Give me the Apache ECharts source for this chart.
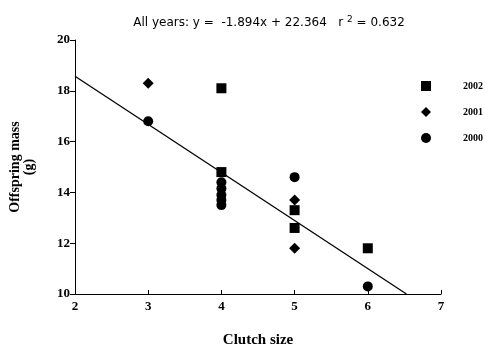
<!DOCTYPE html>
<html>
<head>
<meta charset="utf-8">
<script src="https://cdn.jsdelivr.net/npm/echarts@6/dist/echarts.min.js"></script>
<style>html,body{margin:0;padding:0;background:#fff}#c{width:485px;height:355px}</style>
</head>
<body>
<div id="c"></div>
<script>
var years = ['2002', '2001', '2000'];
var data2002 = [[4, 18.1], [4, 14.8], [5, 13.3], [5, 12.6], [6, 11.8]];
var data2001 = [[3, 18.3], [5, 13.7], [5, 11.8]];
var data2000 = [[3, 16.8], [4, 14.4], [4, 14.15], [4, 13.9], [4, 13.7], [4, 13.5], [5, 14.6], [6, 10.3]];
var fitSlope = -1.894;
var fitIntercept = 22.364;
var rSquared = 0.632;
var xTicks = [2, 3, 4, 5, 6, 7];
var yTicks = [10, 12, 14, 16, 18, 20];

var xMin = xTicks[0], xMax = xTicks[xTicks.length - 1];
var yMin = yTicks[0], yMax = yTicks[yTicks.length - 1];
// regression line endpoints from the stated equation, clipped to plot
var x0 = xMin, y0 = fitSlope * x0 + fitIntercept;
var x1 = (yMin - fitIntercept) / fitSlope, y1 = yMin;
var fitLine = [[x0, y0], [x1, y1]];

var serif = 'Liberation Serif';
var chart = echarts.init(document.getElementById('c'));
var mark = { color: '#000', opacity: 1 };
chart.setOption({
  animation: false,
  backgroundColor: '#fff',
  title: {
    text: 'All years: y =  ' + fitSlope.toFixed(3) + 'x + ' + fitIntercept.toFixed(3) + '   r {sup|2} = ' + rSquared.toFixed(3),
    left: 264, top: 10, textAlign: 'center',
    textStyle: {
      fontFamily: 'DejaVu Sans', fontSize: 12, fontWeight: 'normal', color: '#000',
      rich: { sup: { fontFamily: 'DejaVu Sans', fontSize: 9, verticalAlign: 'top', padding: [0, 0, 6, 0], color: '#000' } }
    }
  },
  legend: {
    orient: 'vertical', left: 416, top: 76,
    itemWidth: 10, itemHeight: 10, itemGap: 16,
    data: years,
    textStyle: { fontFamily: serif, fontWeight: 'bold', fontSize: 10, color: '#000', padding: [0, 0, 0, 27] }
  },
  grid: { left: 74, right: 44, top: 40, bottom: 61 },
  xAxis: {
    type: 'value', min: xMin, max: xMax, interval: 1,
    name: 'Clutch size', nameLocation: 'middle', nameGap: 39,
    nameTextStyle: { fontFamily: serif, fontWeight: 'bold', fontSize: 15, color: '#000' },
    axisLine: { lineStyle: { color: '#000', width: 1 } },
    axisTick: { inside: true, length: 4, lineStyle: { color: '#000' } },
    axisLabel: { fontFamily: serif, fontWeight: 'bold', fontSize: 13, color: '#000', margin: 6 },
    splitLine: { show: false }
  },
  yAxis: {
    type: 'value', min: yMin, max: yMax, interval: 2,
    name: 'Offspring mass\n(g)', nameLocation: 'middle', nameGap: 39, nameRotate: 90,
    nameTextStyle: { fontFamily: serif, fontWeight: 'bold', fontSize: 14, color: '#000', lineHeight: 14 },
    axisLine: { show: true, lineStyle: { color: '#000', width: 1 } },
    axisTick: { show: true, length: 5, lineStyle: { color: '#000' } },
    axisLabel: { fontFamily: serif, fontWeight: 'bold', fontSize: 13, color: '#000', margin: 5 },
    splitLine: { show: false }
  },
  series: [
    { name: '2002', type: 'scatter', symbol: 'rect', symbolSize: 10, itemStyle: mark, data: data2002 },
    { name: '2001', type: 'scatter', symbol: 'diamond', symbolSize: [11, 11], itemStyle: mark, data: data2001 },
    { name: '2000', type: 'scatter', symbol: 'circle', symbolSize: 10, itemStyle: mark, data: data2000 },
    { name: 'fit', type: 'line', data: fitLine, showSymbol: false, symbol: 'none', lineStyle: { color: '#000', width: 1.3 }, z: 1 }
  ]
});
</script>
</body>
</html>
